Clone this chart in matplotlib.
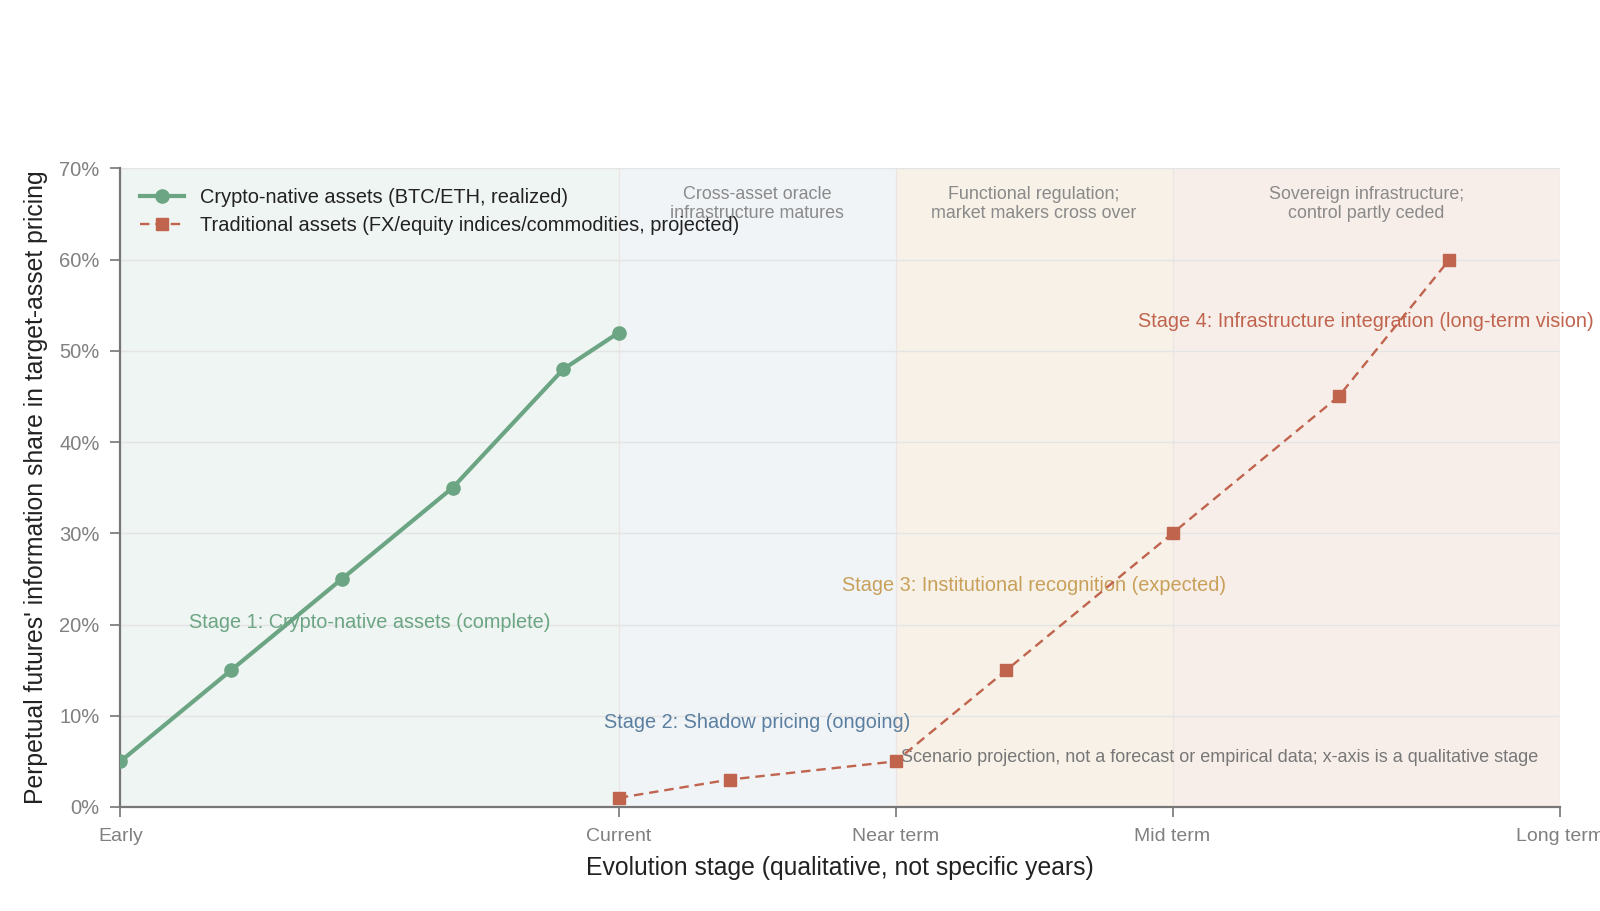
"""
  Perpetual futures information share by evolution stage.
"""
import matplotlib
matplotlib.use("Agg")
import matplotlib.pyplot as plt

plt.rcParams['font.family'] = ['Liberation Sans', 'DejaVu Sans']

# Eixo x qualitativo
tick_pos = [0, 4.5, 7, 9.5, 13]
tick_labels = ["Early", "Current", "Near term", "Mid term", "Long term"]

# Series
crypto_x = [0, 1, 2, 3, 4, 4.5]
crypto_y = [5, 15, 25, 35, 48, 52]
trad_x = [4.5, 5.5, 7, 8, 9.5, 11, 12]
trad_y = [1, 3, 5, 15, 30, 45, 60]

# Fases
stage_edges = [0, 4.5, 7, 9.5, 13]
stage_fill = ["#eff5f2", "#f0f4f7", "#f7f1e7", "#f8eee9"]
stage_names = ["Stage 1: Crypto-native assets (complete)",
               "Stage 2: Shadow pricing (ongoing)",
               "Stage 3: Institutional recognition (expected)",
               "Stage 4: Infrastructure integration (long-term vision)"]
stage_colors = ["#6ba583", "#5b7fa0", "#c9a05a", "#c0644e"]
stage_label_y = [20.2, 9.3, 24.3, 53.2]
stage_notes = ["", "Cross-asset oracle\ninfrastructure matures",
               "Functional regulation;\nmarket makers cross over",
               "Sovereign infrastructure;\ncontrol partly ceded"]

GREEN = "#6ba583"
RED = "#c0644e"

fig = plt.figure(figsize=(16, 9.11), dpi=100)
ax = fig.add_axes([0.0753, 0.1142, 0.8998, 0.701])

for i in range(4):
  a, b = stage_edges[i], stage_edges[i+1]
  ax.axvspan(a, b, color=stage_fill[i], zorder=0, lw=0)
  mid = (a + b) / 2
  ax.text(mid, stage_label_y[i], stage_names[i], color=stage_colors[i],
          ha='center', va='center', fontsize=14.3, zorder=4)
  if stage_notes[i]:
    ax.text(mid, 66.1, stage_notes[i], color="#8a8a8a", ha='center',
            va='center', fontsize=12.9, linespacing=1.2, zorder=4)

ax.plot(crypto_x, crypto_y, color=GREEN, lw=3, marker='o', ms=9.5,
        label="Crypto-native assets (BTC/ETH, realized)", zorder=5)
ax.plot(trad_x, trad_y, color=RED, lw=1.7, ls=(0, (4, 2.5)), marker='s', ms=8.5,
        label="Traditional assets (FX/equity indices/commodities, projected)", zorder=5)

ax.text(7.05, 5.4, "Scenario projection, not a forecast or empirical data; x-axis is a qualitative stage",
        color="#777777", fontsize=13, ha='left', va='center', zorder=4)

ax.set_xlim(0, 13)
ax.set_ylim(0, 70)
ax.set_xticks(tick_pos)
ax.set_xticklabels(tick_labels)
ax.set_yticks(range(0, 71, 10))
ax.set_yticklabels([f"{v}%" for v in range(0, 71, 10)])
ax.grid(True, axis='y', color="#e4e4e4", lw=1, zorder=1)
ax.grid(True, axis='x', color="#ebe6e3", lw=1, zorder=1)
ax.set_axisbelow(True)

for s in ['top', 'right']:
  ax.spines[s].set_visible(False)
for s in ['left', 'bottom']:
  ax.spines[s].set_color("#777777")
  ax.spines[s].set_linewidth(1.6)
ax.tick_params(colors="#808080", labelsize=14, length=7, width=1.3, pad=8)
ax.tick_params(axis='y', labelsize=14.5)

ax.set_xlabel("Evolution stage (qualitative, not specific years)", fontsize=17.8,
              color="#222222", labelpad=8)
ax.set_ylabel("Perpetual futures' information share in target-asset pricing",
              fontsize=17.8, color="#222222", labelpad=8)

leg = ax.legend(loc='upper left', frameon=False, fontsize=14.4, handlelength=2.2,
                borderaxespad=0.6, labelspacing=0.45)
for t in leg.get_texts():
  t.set_color("#222222")

fig.savefig("out.png", dpi=100)
